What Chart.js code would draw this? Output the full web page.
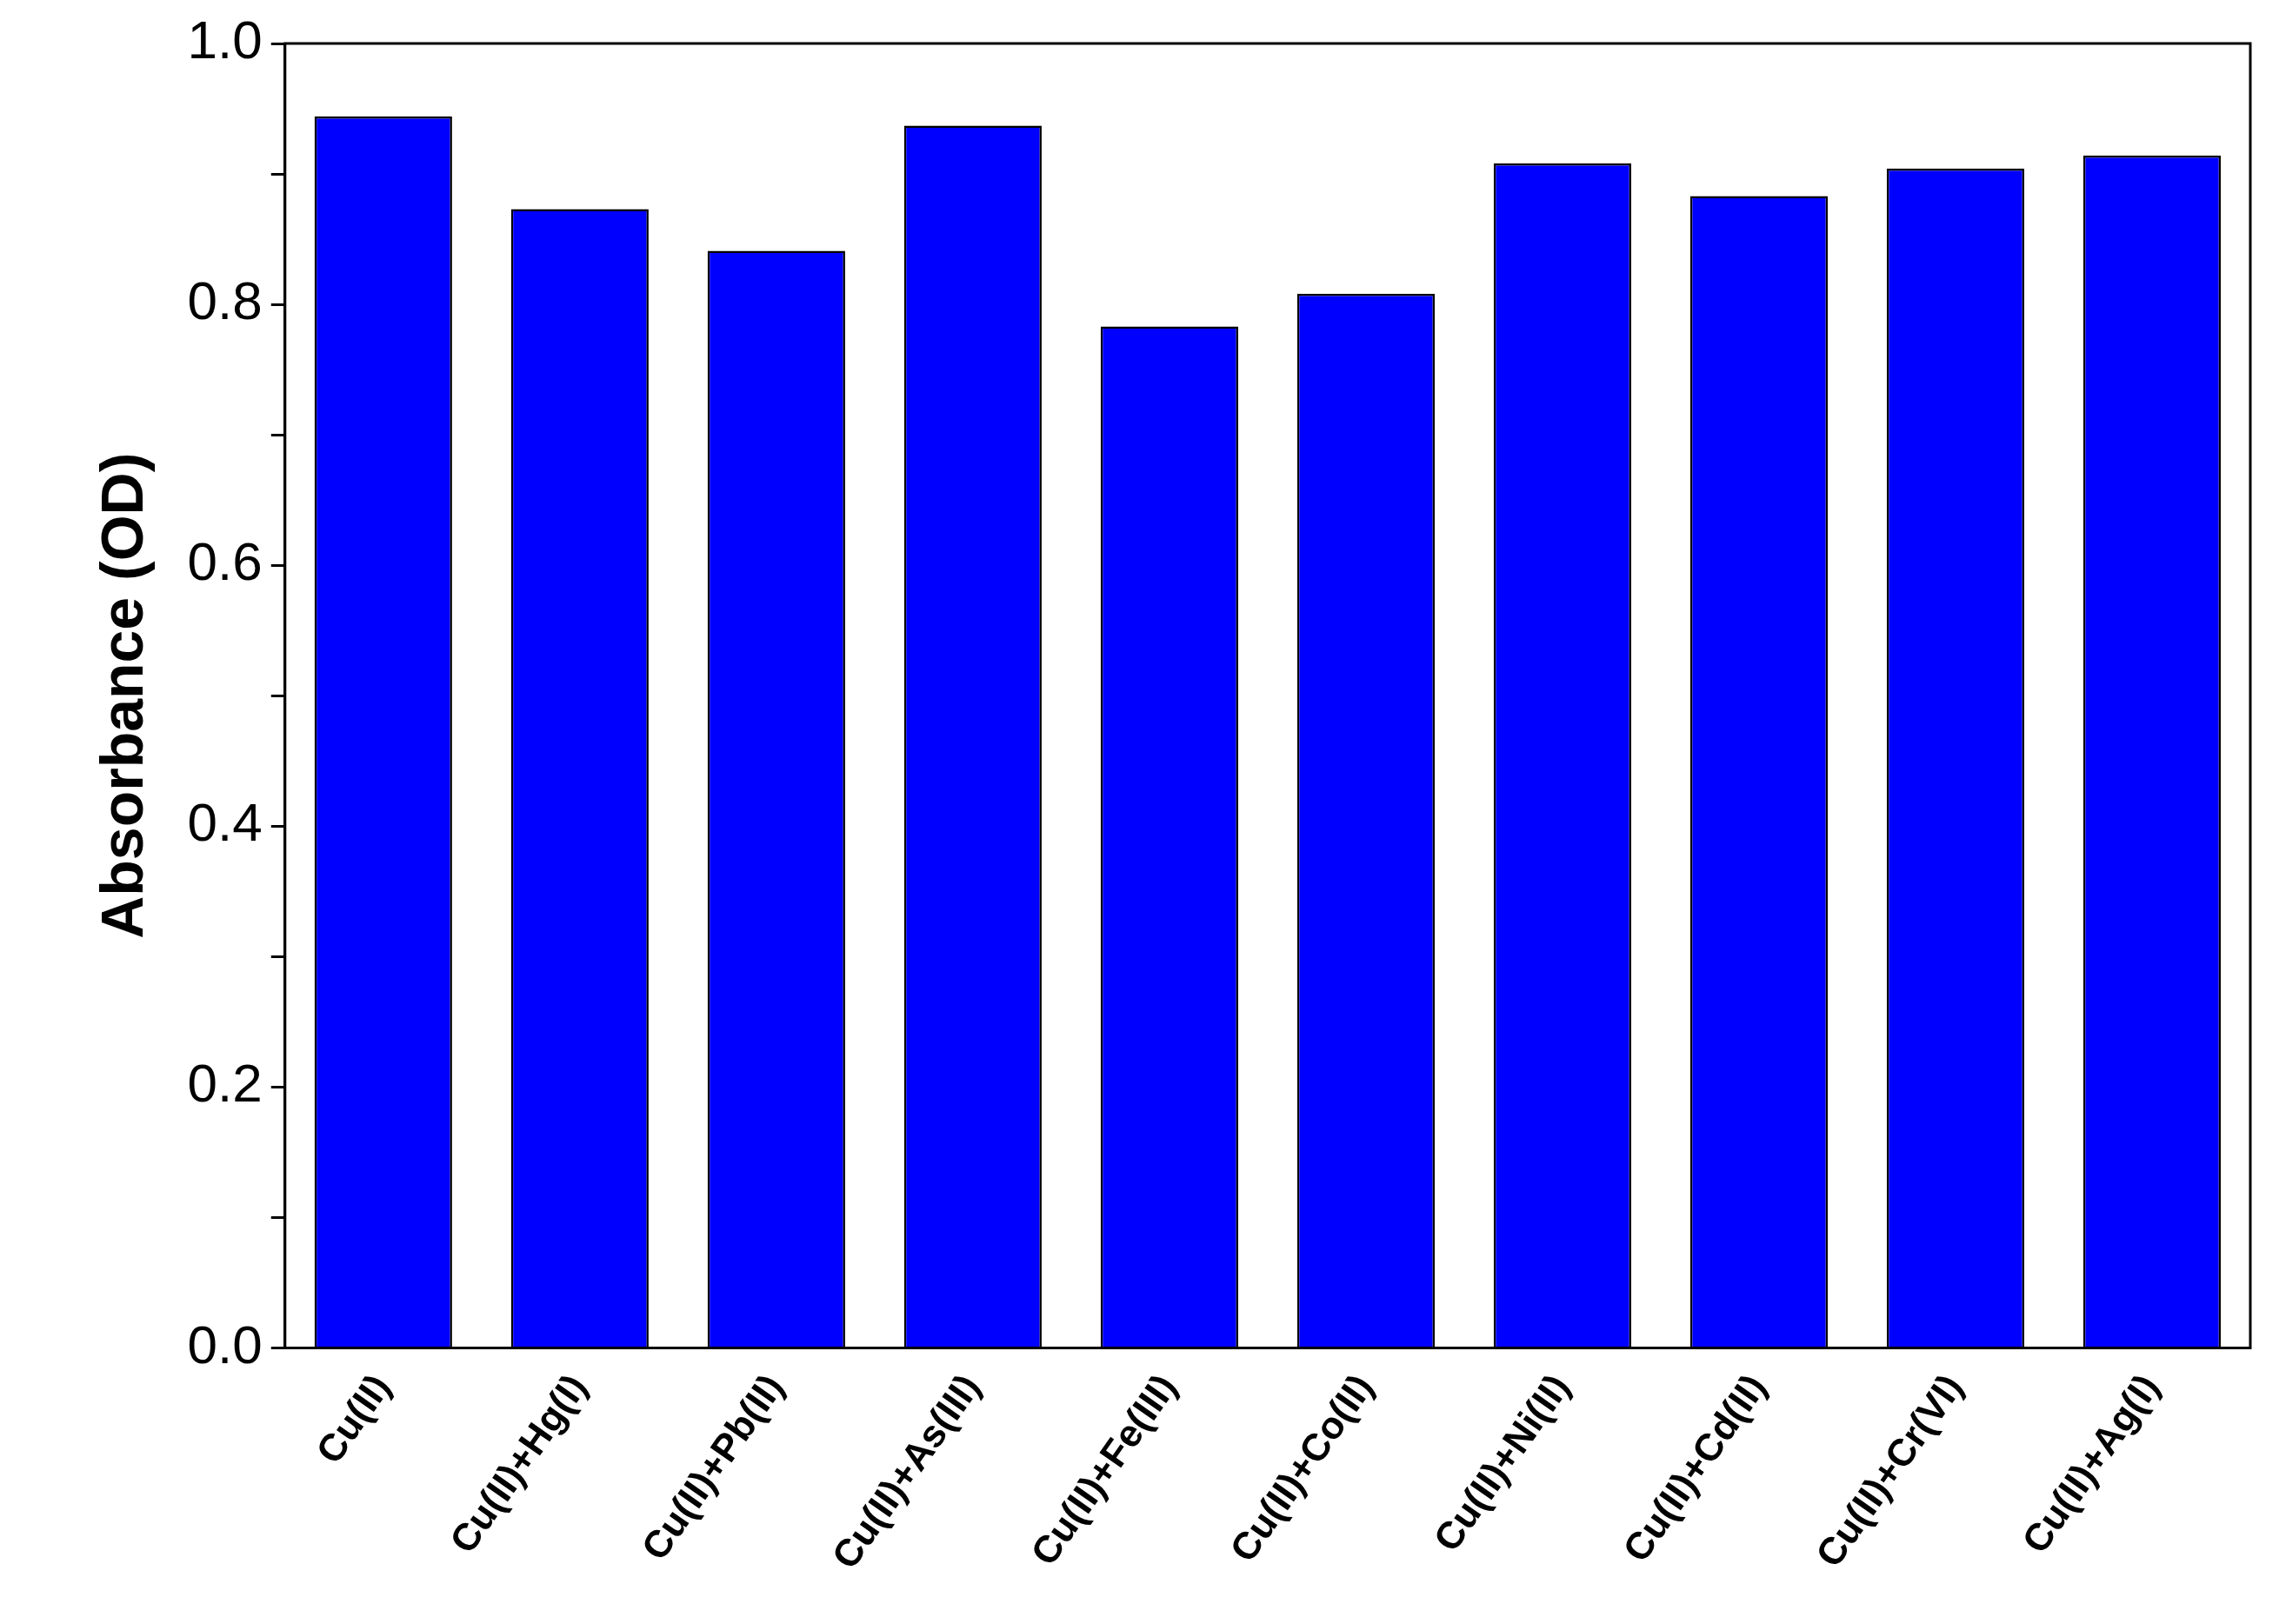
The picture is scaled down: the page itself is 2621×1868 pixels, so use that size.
<!DOCTYPE html>
<html><head><meta charset="utf-8">
<script src="https://cdn.jsdelivr.net/npm/chart.js@4"></script>
<style>html,body{margin:0;background:#fff}#w{width:2621px;height:1868px}</style>
</head><body><div id="w"><canvas id="c"></canvas></div>
<script>
const categories=["Cu(II)","Cu(II)+Hg(I)","Cu(II)+Pb(II)","Cu(II)+As(III)","Cu(II)+Fe(III)","Cu(II)+Co(II)","Cu(II)+Ni(II)","Cu(II)+Cd(II)","Cu(II)+Cr(VI)","Cu(II)+Ag(I)"];
const absorbance=[0.944,0.873,0.841,0.937,0.783,0.808,0.908,0.883,0.904,0.914];
const yTickLabels=["0.0","0.2","0.4","0.6","0.8","1.0"];
const frame={id:'frame',afterDraw(ch){const a=ch.chartArea,x=ch.ctx;x.save();x.strokeStyle='#000';x.lineWidth=3;x.strokeRect(a.left,a.top,a.right-a.left,a.bottom-a.top);x.restore();}};
new Chart(document.getElementById('c'),{type:'bar',
data:{labels:categories,datasets:[{data:absorbance,backgroundColor:'#0000ff',borderColor:'#000',borderWidth:2.5,categoryPercentage:0.7,barPercentage:1}]},
options:{responsive:true,maintainAspectRatio:false,animation:false,
layout:{padding:{top:50,right:33,left:100,bottom:30}},
plugins:{legend:{display:false},tooltip:{enabled:false}},
scales:{
x:{grid:{display:false,drawTicks:false},border:{display:false},
ticks:{minRotation:55,maxRotation:55,padding:22,color:'#000',font:{family:'Liberation Sans',weight:'bold',size:44}}},
y:{min:0,max:1,grid:{drawOnChartArea:false,color:'#000',lineWidth:3,tickLength:16},border:{color:'#000',width:3},
ticks:{stepSize:0.1,color:'#000',padding:10,font:{family:'Liberation Sans',size:62},
callback:(v)=>{const i=Math.round(v*10);return i%2===0?yTickLabels[i/2]:'';}},
title:{display:true,text:'Absorbance (OD)',color:'#000',font:{family:'Liberation Sans',weight:'bold',size:68},padding:{bottom:20}}}}},
plugins:[frame]});
</script></body></html>
